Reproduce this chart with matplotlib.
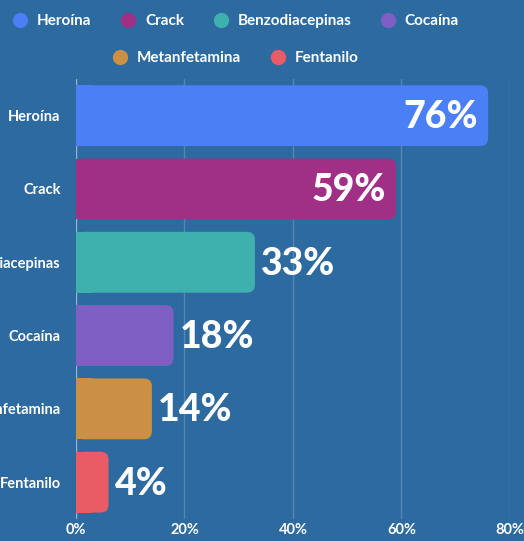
import matplotlib.pyplot as plt
from matplotlib.patches import FancyBboxPatch, Rectangle
from matplotlib.lines import Line2D

plt.rcParams['font.family'] = ['Lato', 'DejaVu Sans']

drogas = ['Heroína', 'Crack', 'Benzodiacepinas', 'Cocaína', 'Metanfetamina', 'Fentanilo']
valores = [76, 59, 33, 18, 14, 4]
colores = ['#4a7ff5', '#a03085', '#3eb0ad', '#7e5fc4', '#cb9044', '#e95c65']
ticks = [0, 20, 40, 60, 80]
fondo = '#2d6aa0'

fig = plt.figure(figsize=(5.24, 5.41), dpi=100, facecolor=fondo)
ax = fig.add_axes([0.145, 0.041, 0.828, 0.813])
ax.set_facecolor(fondo)

pos = list(range(len(drogas)))
# ancho minimo visible de las barras pequeñas
ancho = [max(v, 6) for v in valores]
barras = ax.barh(pos, ancho, height=0.83, color=colores)
ax.set_xlim(0, 80)
ax.set_ylim(5.5, -0.5)

# esquinas redondeadas solo a la derecha
asp = (1 / 73.4) / (80 / 434)
r = 8 * 80 / 434
for b, c in zip(barras, colores):
    x, y, w, h = b.get_x(), b.get_y(), b.get_width(), b.get_height()
    b.set_visible(False)
    ax.add_patch(FancyBboxPatch((x, y), w, h, boxstyle='round,pad=0,rounding_size=%f' % r,
                                mutation_aspect=asp, fc=c, ec='none', zorder=3))
    ax.add_patch(Rectangle((x, y), min(w, 2 * r), h, fc=c, ec='none', zorder=3))

px = 80 / 434
for i, (v, w) in enumerate(zip(valores, ancho)):
    if v > 50:
        ax.text(w - 10 * px, i + 0.02, '%d%%' % v, ha='right', va='center', color='white',
                fontsize=27, fontweight='black', zorder=4)
    else:
        ax.text(w + 6 * px, i + 0.02, '%d%%' % v, ha='left', va='center', color='white',
                fontsize=27, fontweight='black', zorder=4)

ax.set_xticks(ticks)
ax.set_xticklabels(['%d%%' % t for t in ticks])
ax.set_yticks(pos)
ax.set_yticklabels(drogas)
for t in ticks:
    ax.axvline(t, color='#ffffff', alpha=0.5 if t == 0 else 0.2, lw=1, zorder=1)
ax.tick_params(length=0, colors='white', labelsize=10.5)
ax.tick_params(axis='y', pad=11)
ax.tick_params(axis='x', pad=3)
for lab in ax.get_xticklabels() + ax.get_yticklabels():
    lab.set_fontweight('bold')
for s in ax.spines.values():
    s.set_visible(False)

def marca(c):
    return Line2D([], [], marker='o', ls='', markersize=11, markerfacecolor=c, markeredgecolor='none')

l1 = fig.legend([marca(c) for c in colores[:4]], drogas[:4], ncol=4, loc='center',
                bbox_to_anchor=(232 / 524, 1 - 21 / 541), frameon=False, labelcolor='white',
                prop={'weight': 'bold', 'size': 11}, handletextpad=0.1, columnspacing=1.4)
l2 = fig.legend([marca(c) for c in colores[4:]], drogas[4:], ncol=2, loc='center',
                bbox_to_anchor=(232 / 524, 1 - 58 / 541), frameon=False, labelcolor='white',
                prop={'weight': 'bold', 'size': 11}, handletextpad=0.1, columnspacing=1.4)

fig.savefig('out.png', dpi=100, facecolor=fondo)
